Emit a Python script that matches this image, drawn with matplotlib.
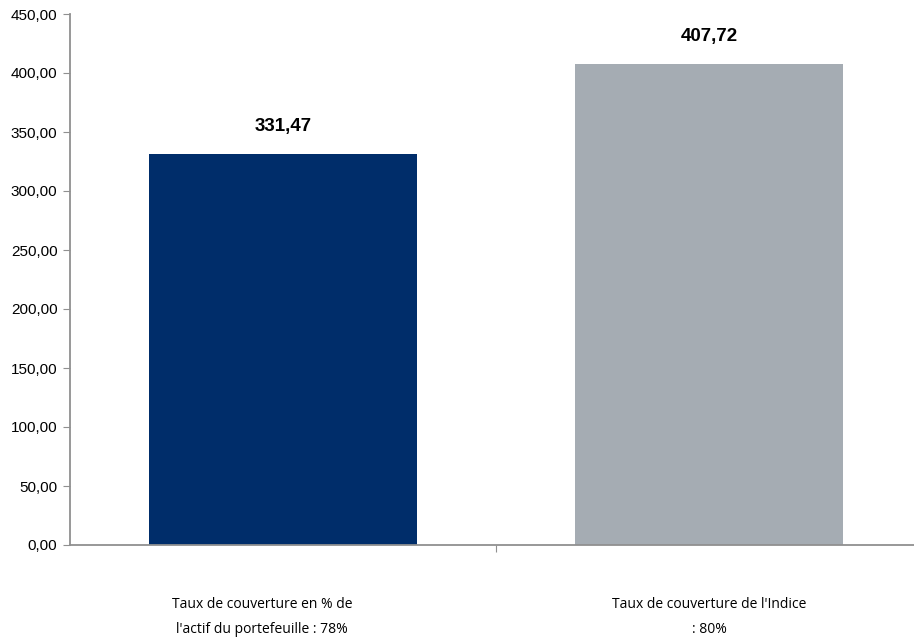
import matplotlib.pyplot as plt
from matplotlib.transforms import ScaledTranslation

categories = ["Taux de couverture en % de\nl'actif du portefeuille : 78%",
              "Taux de couverture de l'Indice\n: 80%"]
values = [331.47, 407.72]
colors = ["#002D6A", "#A5ACB3"]
yticks = [0, 50, 100, 150, 200, 250, 300, 350, 400, 450]
label_shift = [-21, 0]  # px, the first label sits left of its bar


def fr(v):
    return f"{v:,.2f}".replace(",", " ").replace(".", ",")


fig = plt.figure(figsize=(9.14, 6.39), dpi=100)
# the plot area runs slightly past the right edge, as in the original
ax = fig.add_axes([70 / 914, 1 - 545 / 639, 852 / 914, 531 / 639])

x = range(len(categories))
bars = ax.bar(x, values, width=0.627, color=colors)
for b, v in zip(bars, values):
    ax.text(b.get_x() + b.get_width() / 2, v + 19, fr(v), ha="center",
            va="baseline", fontsize=13.5, fontweight="bold",
            family="Liberation Sans")

for i, (cat, dx) in enumerate(zip(categories, label_shift)):
    tr = ax.get_xaxis_transform() + ScaledTranslation(
        dx / 100, -52 / 100, fig.dpi_scale_trans)
    ax.text(i, 0, cat, transform=tr, ha="center", va="top",
            family="Open Sans", fontsize=10, linespacing=1.95)

ax.set_xlim(-0.5, len(categories) - 0.5)
ax.set_ylim(0, 450)
ax.set_yticks(yticks)
ax.set_yticklabels([fr(t) for t in yticks], family="Liberation Sans",
                   fontsize=11)

ax.set_xticks([0.5])
ax.set_xticklabels([])
ax.tick_params(axis="x", which="major", length=5, color="#909090")
ax.tick_params(axis="y", length=5, color="#909090", pad=4)

for s in ["top", "right"]:
    ax.spines[s].set_visible(False)
for s in ["left", "bottom"]:
    ax.spines[s].set_color("#909090")
    ax.spines[s].set_linewidth(1.3)

fig.savefig("out.png", dpi=100)
